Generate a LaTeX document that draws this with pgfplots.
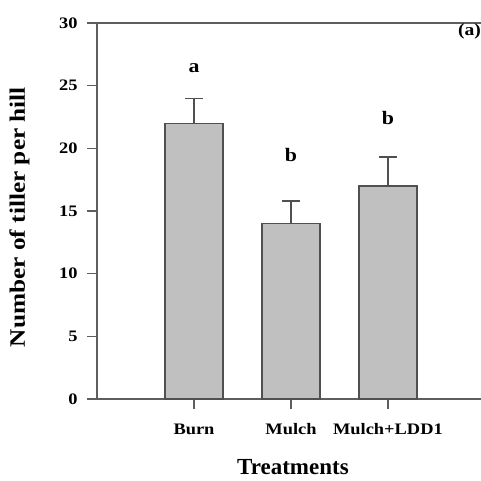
\documentclass[border=0pt]{standalone}
\usepackage{pgfplots}
\pgfplotsset{compat=1.18}
\usepackage{fontspec}
\setmainfont{Liberation Serif}[FakeStretch=1.15]
\newfontfamily\plainserif{Liberation Serif}
\definecolor{axisgray}{HTML}{5E5E5E}
\definecolor{barfill}{HTML}{C0C0C0}
\definecolor{bardraw}{HTML}{505050}
\begin{document}
\begin{tikzpicture}
\path[use as bounding box] (-97pt,-81pt) rectangle (384pt,399pt);
\begin{axis}[
  scale only axis,
  width=385pt, height=376pt,
  xmin=0, xmax=3.97,
  ymin=0, ymax=30,
  axis y line*=left,
  axis x line=box,
  axis line style={axisgray, line width=1.2pt},
  every tick/.style={axisgray, line width=1.2pt},
  tick align=outside,
  major tick length=10pt,
  xtick pos=bottom,
  ytick={0,5,...,30},
  xtick={1,2,3},
  xticklabels={Burn,Mulch,Mulch+LDD1},
  /pgf/number format/assume math mode=true,
  yticklabel style={font=\bfseries\fontsize{16}{16}\selectfont, xshift=-6pt},
  xticklabel style={font=\bfseries\fontsize{16}{16}\selectfont, anchor=base, yshift=-25pt},
  xlabel={Treatments},
  xlabel style={font=\plainserif\bfseries\fontsize{23}{23}\selectfont, inner sep=1pt, at={(axis description cs:0.509,-0.2)}, anchor=base},
  ylabel={Number of tiller per hill},
  ylabel style={font=\bfseries\fontsize{22}{22}\selectfont, at={(axis description cs:-0.2013,0.484)}, anchor=center, rotate=0},
  clip=false,
]
\addplot[ybar, bar width=58pt, fill=barfill, draw=bardraw, line width=1.3pt,
  error bars/.cd, y dir=plus, y explicit,
  error mark=|, error mark options={mark size=9pt, line width=1.3pt, draw=bardraw},
  error bar style={line width=1.3pt, draw=bardraw}]
  coordinates {
  (1,22) +- (0,2.0)
  (2,14) +- (0,1.8)
  (3,17) +- (0,2.3)
  };
\node[font=\bfseries\fontsize{19}{19}\selectfont] at (axis cs:1,26.4) {a};
\node[font=\bfseries\fontsize{19}{19}\selectfont] at (axis cs:2,19.5) {b};
\node[font=\bfseries\fontsize{19}{19}\selectfont] at (axis cs:3,22.4) {b};
\node[font=\bfseries\fontsize{17}{17}\selectfont, anchor=east, inner sep=1pt] at (rel axis cs:1.0,0.978) {(a)};
\end{axis}
\end{tikzpicture}
\end{document}
